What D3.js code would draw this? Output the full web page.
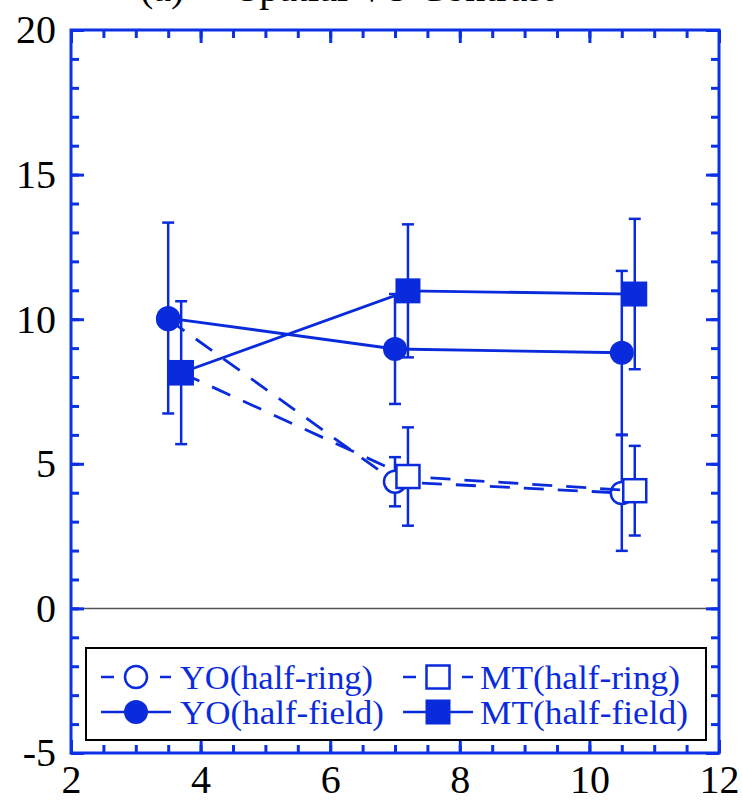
<!DOCTYPE html>
<html>
<head>
<meta charset="utf-8">
<script src="https://cdn.jsdelivr.net/npm/d3@7"></script>
<style>
  html, body { margin: 0; padding: 0; background: #fff; }
  svg { display: block; }
  text { font-family: "Liberation Serif", "DejaVu Serif", serif; }
</style>
</head>
<body>
<div id="chart"></div>
<script>
// values
const xYO = [3.5, 7.0, 10.5];
const xMT = [3.7, 7.2, 10.7];
const yoRing = [10.0, 4.38, 3.99];
const yoRingErr = [0.3, 0.85, 2.0];
const mtRing = [8.15, 4.56, 4.07];
const mtRingErr = [0.3, 1.7, 1.55];
const yoField = [10.04, 8.97, 8.84];
const yoFieldErr = [3.3, 1.9, 2.83];
const mtField = [8.15, 10.98, 10.87];
const mtFieldErr = [2.47, 2.3, 2.6];

const xTicks = [2, 4, 6, 8, 10, 12];
const yTicks = [-5, 0, 5, 10, 15, 20];
const legendLabels = ['YO(half-ring)', 'MT(half-ring)', 'YO(half-field)', 'MT(half-field)'];

const W = 742, H = 802;
const blue = '#0a2bdc';
const frameBlue = '#0b30e6';

const x = d3.scaleLinear().domain([2, 12]).range([71, 719]);
const y = d3.scaleLinear().domain([-5, 20]).range([753, 30]);

const svg = d3.select('#chart').append('svg')
  .attr('width', W).attr('height', H);

// title, cut off at the top edge like in the source figure
svg.append('text').attr('x', 140).attr('y', 1)
  .attr('font-size', 40).attr('fill', '#000').text('(a)');
svg.append('text').attr('x', 237).attr('y', 1)
  .attr('font-size', 40).attr('fill', '#000').text('Spatial VS Contrast');

// zero line
svg.append('line')
  .attr('x1', x(2)).attr('x2', x(12))
  .attr('y1', y(0)).attr('y2', y(0))
  .attr('stroke', '#555').attr('stroke-width', 1.5);

// axes with inward ticks on all four sides
const minorX = d3.range(2, 12.01, 0.5);
const minorY = d3.range(-5, 20.01, 1);

function styleAxis(g) {
  g.select('.domain').remove();
  g.selectAll('.tick line').attr('stroke', frameBlue).attr('stroke-width', 3);
  g.selectAll('.tick text')
    .attr('fill', '#000')
    .attr('font-size', 40)
    .attr('font-family', '"Liberation Serif", serif');
}

const axes = [
  { ax: d3.axisBottom, sc: x, t: `translate(0,${y(-5)})`, major: xTicks, minor: minorX, lab: true, pad: 12 },
  { ax: d3.axisTop, sc: x, t: `translate(0,${y(20)})`, major: xTicks, minor: minorX, lab: false, pad: 0 },
  { ax: d3.axisLeft, sc: y, t: `translate(${x(2)},0)`, major: yTicks, minor: minorY, lab: true, pad: 15 },
  { ax: d3.axisRight, sc: y, t: `translate(${x(12)},0)`, major: yTicks, minor: minorY, lab: false, pad: 0 }
];

axes.forEach(a => {
  svg.append('g').attr('transform', a.t)
    .call(a.ax(a.sc).tickValues(a.minor).tickSize(-8).tickFormat(''))
    .call(styleAxis);
  svg.append('g').attr('transform', a.t)
    .call(a.ax(a.sc).tickValues(a.major).tickSize(-13).tickPadding(a.pad)
      .tickFormat(a.lab ? (d => String(d)) : ''))
    .call(styleAxis);
});

// frame
svg.append('rect')
  .attr('x', x(2)).attr('y', y(20))
  .attr('width', x(12) - x(2)).attr('height', y(-5) - y(20))
  .attr('fill', 'none').attr('stroke', frameBlue).attr('stroke-width', 3);

// series
const series = [
  { xs: xYO, ys: yoRing, err: yoRingErr, dash: '20,14', shape: 'circle', filled: false },
  { xs: xMT, ys: mtRing, err: mtRingErr, dash: '20,14', shape: 'square', filled: false },
  { xs: xYO, ys: yoField, err: yoFieldErr, dash: null, shape: 'circle', filled: true },
  { xs: xMT, ys: mtField, err: mtFieldErr, dash: null, shape: 'square', filled: true }
];

function drawMarker(g, cx, cy, shape, filled) {
  if (shape === 'circle') {
    g.append('circle').attr('cx', cx).attr('cy', cy)
      .attr('r', filled ? 12 : 11)
      .attr('fill', filled ? blue : '#fff')
      .attr('stroke', blue).attr('stroke-width', filled ? 0 : 2.5);
  } else {
    const s = filled ? 25 : 23;
    g.append('rect').attr('x', cx - s / 2).attr('y', cy - s / 2)
      .attr('width', s).attr('height', s)
      .attr('fill', filled ? blue : '#fff')
      .attr('stroke', blue).attr('stroke-width', filled ? 0 : 2.5);
  }
}

const line = d3.line().x(d => x(d[0])).y(d => y(d[1]));

series.forEach(s => {
  const g = svg.append('g');
  const pts = s.xs.map((v, i) => [v, s.ys[i], s.err[i]]);
  g.append('path').datum(pts)
    .attr('d', line)
    .attr('fill', 'none').attr('stroke', blue).attr('stroke-width', 2.8)
    .attr('stroke-dasharray', s.dash);
  pts.forEach(p => {
    const cx = x(p[0]);
    g.append('line').attr('x1', cx).attr('x2', cx)
      .attr('y1', y(p[1] - p[2])).attr('y2', y(p[1] + p[2]))
      .attr('stroke', blue).attr('stroke-width', 2.5);
    [p[1] - p[2], p[1] + p[2]].forEach(v => {
      g.append('line').attr('x1', cx - 6).attr('x2', cx + 6)
        .attr('y1', y(v)).attr('y2', y(v))
        .attr('stroke', blue).attr('stroke-width', 2.5);
    });
  });
  pts.forEach(p => drawMarker(g, x(p[0]), y(p[1]), s.shape, s.filled));
});

// legend
const lg = svg.append('g');
lg.append('rect').attr('x', 86).attr('y', 648).attr('width', 620).attr('height', 92)
  .attr('fill', '#fff').attr('stroke', '#000').attr('stroke-width', 2);

const legendPos = [
  { lx: 101, rowY: 677, tx: 180, tw: 193 },
  { lx: 403, rowY: 677, tx: 480, tw: 200 },
  { lx: 101, rowY: 712, tx: 180, tw: 204 },
  { lx: 403, rowY: 712, tx: 480, tw: 208 }
];

legendLabels.forEach((label, i) => {
  const s = series[i];
  const p = legendPos[i];
  lg.append('line')
    .attr('x1', p.lx).attr('x2', p.lx + 70)
    .attr('y1', p.rowY).attr('y2', p.rowY)
    .attr('stroke', blue).attr('stroke-width', 2.5)
    .attr('stroke-dasharray', s.dash ? '13,16.5' : null);
  drawMarker(lg, p.lx + 35, p.rowY, s.shape, s.filled);
  lg.append('text')
    .attr('x', p.tx).attr('y', p.rowY + 12)
    .attr('font-size', 34).attr('fill', blue)
    .attr('textLength', p.tw).attr('lengthAdjust', 'spacingAndGlyphs')
    .text(label);
});
</script>
</body>
</html>
